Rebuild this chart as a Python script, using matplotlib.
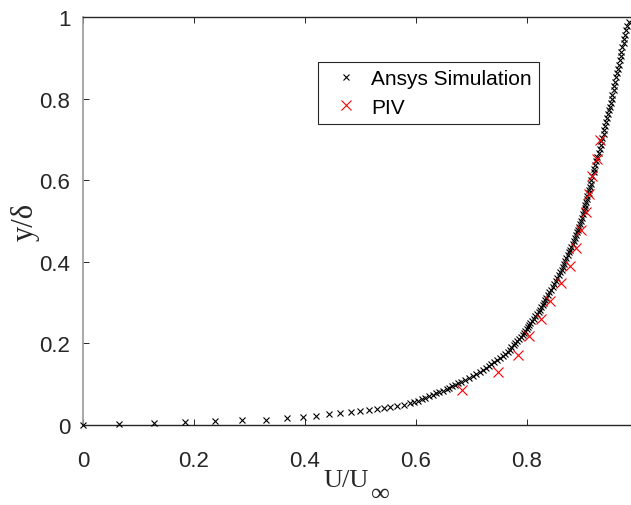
import matplotlib
matplotlib.use("Agg")
import matplotlib.pyplot as plt

# Ansys simulation profile (U/U_inf, y/delta)
ansys_u = [
    0.000, 0.065, 0.128, 0.184, 0.238, 0.286, 0.330, 0.367, 0.396, 0.420,
    0.443, 0.463, 0.482, 0.499, 0.515, 0.529, 0.542, 0.554, 0.566, 0.578,
    0.589, 0.597, 0.604, 0.611, 0.617, 0.623, 0.630, 0.636, 0.642, 0.648,
    0.655, 0.660, 0.665, 0.670, 0.675, 0.681, 0.688, 0.695, 0.702, 0.709,
    0.716, 0.721, 0.726, 0.731, 0.736, 0.741, 0.746, 0.751, 0.756, 0.761,
    0.765, 0.769, 0.772, 0.776, 0.779, 0.782, 0.786, 0.789, 0.792, 0.794,
    0.797, 0.800, 0.802, 0.804, 0.806, 0.809, 0.812, 0.815, 0.818, 0.821,
    0.824, 0.826, 0.828, 0.830, 0.832, 0.834, 0.837, 0.840, 0.843, 0.846,
    0.849, 0.852, 0.854, 0.857, 0.860, 0.863, 0.865, 0.867, 0.869, 0.871,
    0.873, 0.876, 0.878, 0.880, 0.883, 0.885, 0.887, 0.889, 0.890, 0.892,
    0.893, 0.895, 0.897, 0.899, 0.901, 0.902, 0.904, 0.905, 0.907, 0.908,
    0.909, 0.911, 0.912, 0.914, 0.915, 0.916, 0.918, 0.920, 0.921, 0.923,
    0.925, 0.927, 0.929, 0.931, 0.933, 0.934, 0.936, 0.938, 0.939, 0.941,
    0.943, 0.944, 0.946, 0.948, 0.949, 0.951, 0.953, 0.954, 0.956, 0.957,
    0.959, 0.961, 0.962, 0.964, 0.966, 0.967, 0.969, 0.970, 0.972, 0.974,
    0.975, 0.977, 0.979, 0.981, 0.983,
]
ansys_y = [
    0.0000, 0.0017, 0.0050, 0.0066, 0.0090, 0.0113, 0.0130, 0.0160, 0.0205, 0.0228,
    0.0260, 0.0286, 0.0320, 0.0335, 0.0360, 0.0384, 0.0410, 0.0433, 0.0466, 0.0500,
    0.0530, 0.0565, 0.0600, 0.0635, 0.0670, 0.0705, 0.0740, 0.0775, 0.0810, 0.0845,
    0.0880, 0.0915, 0.0950, 0.0985, 0.1020, 0.1055, 0.1100, 0.1150, 0.1200, 0.1250,
    0.1300, 0.1350, 0.1400, 0.1450, 0.1500, 0.1550, 0.1600, 0.1650, 0.1700, 0.1750,
    0.1800, 0.1850, 0.1900, 0.1950, 0.2000, 0.2050, 0.2100, 0.2150, 0.2200, 0.2250,
    0.2300, 0.2350, 0.2400, 0.2450, 0.2500, 0.2555, 0.2610, 0.2665, 0.2720, 0.2775,
    0.2830, 0.2885, 0.2940, 0.2995, 0.3060, 0.3125, 0.3190, 0.3255, 0.3320, 0.3390,
    0.3460, 0.3530, 0.3600, 0.3670, 0.3740, 0.3810, 0.3880, 0.3950, 0.4020, 0.4090,
    0.4160, 0.4230, 0.4300, 0.4370, 0.4440, 0.4510, 0.4580, 0.4650, 0.4720, 0.4790,
    0.4860, 0.4935, 0.5010, 0.5085, 0.5160, 0.5235, 0.5310, 0.5385, 0.5460, 0.5535,
    0.5610, 0.5685, 0.5760, 0.5835, 0.5910, 0.6000, 0.6095, 0.6190, 0.6285, 0.6380,
    0.6475, 0.6570, 0.6665, 0.6760, 0.6855, 0.6950, 0.7045, 0.7140, 0.7235, 0.7330,
    0.7425, 0.7520, 0.7615, 0.7710, 0.7805, 0.7900, 0.8000, 0.8100, 0.8205, 0.8310,
    0.8415, 0.8520, 0.8625, 0.8730, 0.8835, 0.8940, 0.9045, 0.9150, 0.9255, 0.9360,
    0.9465, 0.9570, 0.9675, 0.9780, 0.9885,
]

# PIV measurements
piv_u = [0.682, 0.747, 0.783, 0.804, 0.825, 0.841, 0.861, 0.877,
         0.888, 0.897, 0.906, 0.912, 0.918, 0.926, 0.932]
piv_y = [0.087, 0.129, 0.172, 0.217, 0.260, 0.305, 0.348, 0.390,
         0.435, 0.479, 0.521, 0.566, 0.611, 0.652, 0.698]

x_ticks = [0, 0.2, 0.4, 0.6, 0.8, 1]
x_tick_labels = ["0", "0.2", "0.4", "0.6", "0.8", ""]   # "1" falls off the crop
y_ticks = [0, 0.2, 0.4, 0.6, 0.8, 1]
y_tick_labels = ["0", "0.2", "0.4", "0.6", "0.8", "1"]

ink = "#262626"
serif = ["Liberation Serif", "DejaVu Serif"]

W, H = 631, 506
fig = plt.figure(figsize=(W / 100, H / 100), dpi=100)
ax = fig.add_axes([83 / W, 80 / H, 555 / W, 408 / H])

ax.plot(ansys_u, ansys_y, linestyle="none", marker="x", color="black",
        markersize=5, markeredgewidth=0.8, label="Ansys Simulation",
        clip_on=False, zorder=3)
ax.plot(piv_u, piv_y, linestyle="none", marker="x", color="red",
        markersize=7.5, markeredgewidth=0.8, label="PIV",
        clip_on=False, zorder=4)

ax.set_xlim(0, 1)
ax.set_ylim(0, 1)
ax.set_xticks(x_ticks)
ax.set_xticklabels(x_tick_labels, fontfamily="Liberation Sans")
ax.set_yticks(y_ticks)
ax.set_yticklabels(y_tick_labels, fontfamily="Liberation Sans")

ax.tick_params(which="both", direction="in", top=True, right=True,
               length=4.3, width=0.7, color=ink, labelcolor=ink,
               labelsize=16)
ax.tick_params(axis="x", pad=18)
ax.tick_params(axis="y", pad=9)

for side in ["top", "bottom", "right"]:
    ax.spines[side].set_color(ink)
    ax.spines[side].set_linewidth(1.0)
ax.spines["left"].set_color("#9a9a9a")
ax.spines["left"].set_linewidth(1.2)

# x label: "U/U" with a large, dropped infinity subscript (MATLAB tex style)
ax.set_xlabel("U/U", fontsize=19, color=ink, family=serif)
ax.xaxis.set_label_coords((346.5 - 83) / 555, (426 - 470) / 408)
ax.annotate("\u221e", xy=(1, 0), xycoords=ax.xaxis.label,
            xytext=(1.5, -6.5), textcoords="offset points",
            ha="left", va="baseline", fontsize=19, color=ink, family=serif)

ax.set_ylabel("y/\u03b4", fontsize=22, color=ink, family=serif)
ax.yaxis.set_label_coords((40 - 83) / 555, 0.5)

leg = ax.legend(loc="upper left", bbox_to_anchor=(318 / W, 1 - 63 / H),
                bbox_transform=fig.transFigure, borderaxespad=0,
                fancybox=False, framealpha=1, edgecolor=ink,
                prop={"family": "Liberation Sans", "size": 15},
                handlelength=2.0, handletextpad=0.2, borderpad=0.35,
                labelspacing=0.45)
leg.get_frame().set_linewidth(0.8)
for t in leg.get_texts():
    t.set_color("black")

fig.savefig("out.png", dpi=100)
